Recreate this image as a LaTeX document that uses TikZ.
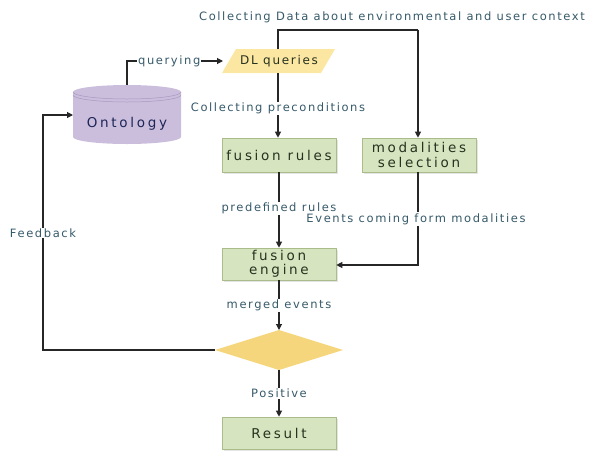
\documentclass[tikz,border=0pt]{standalone}
\usepackage{fontspec}
\setmainfont{DejaVu Sans}
\newfontfamily\lblfont[LetterSpace=14.0]{DejaVu Sans}
\newfontfamily\boxfont[LetterSpace=20.0]{DejaVu Sans}
\newfontfamily\dlfont[LetterSpace=14.0]{DejaVu Sans}
\usetikzlibrary{arrows.meta,shadows}
\definecolor{boxfill}{HTML}{D6E4BF}
\definecolor{boxline}{HTML}{A9BC8A}
\definecolor{boxtext}{HTML}{26321F}
\definecolor{lbltext}{HTML}{365A6A}
\definecolor{qfill}{HTML}{FBE6A2}
\definecolor{dfill}{HTML}{F6D67C}
\definecolor{ontofill}{HTML}{CBBEDC}
\definecolor{ontoline}{HTML}{A898C0}
\tikzset{
  procbox/.style={draw=boxline, fill=boxfill, line width=0.6pt,
    minimum width=114pt, minimum height=34pt, align=center, inner sep=1pt,
    font=\boxfont\fontsize{13.5}{14.5}\selectfont, text=boxtext,
    drop shadow={shadow xshift=1.5pt, shadow yshift=-1.5pt, fill=black!20}},
  lbl/.style={fill=white, inner sep=1pt, font=\lblfont\fontsize{11.5}{12}\selectfont, text=lbltext},
  flow/.style={line width=1.1pt, draw=black!85},
  arr/.style={flow, -{Triangle[length=6pt,width=6pt]}},
}
\begin{document}
\begin{tikzpicture}[x=1pt,y=-1pt]
  \useasboundingbox (0,0) rectangle (590,451);

  % ontology store (cylinder)
  \fill[ontofill] (73,92) -- (73,137) arc[start angle=180,end angle=0,x radius=54,y radius=7]
     -- (181,92) arc[start angle=0,end angle=-180,x radius=54,y radius=7] -- cycle;
  \draw[ontoline, line width=0.5pt] (73,92) arc[start angle=180,end angle=0,x radius=54,y radius=7];
  \draw[ontoline, line width=0.5pt] (73,95) arc[start angle=180,end angle=0,x radius=54,y radius=7];
  \node[font=\boxfont\fontsize{13.5}{14}\selectfont, text=boxtext!75!blue] (onto) at (127,124) {Ontology};
  \coordinate (ontoTop) at (127,85);
  \coordinate (ontoLeft) at (73,115);

  % DL queries (parallelogram)
  \fill[qfill] (222,73) -- (236,49) -- (335,49) -- (321,73) -- cycle;
  \node[font=\dlfont\fontsize{12}{13}\selectfont, text=boxtext] (dl) at (279,61) {DL queries};
  \coordinate (dlTop) at (278,49);
  \coordinate (dlBot) at (278,73);
  \coordinate (dlLeft) at (223,61);

  % process boxes
  \node[procbox] (rules) at (279,155) {fusion rules};
  \node[procbox] (modal) at (419,155) {modalities\\selection};
  \node[procbox, minimum height=32pt] (engine) at (279,264) {fusion\\engine};
  \node[procbox, minimum height=32pt] (result) at (279,433) {Result};

  % decision
  \fill[dfill] (215,350) -- (279,330) -- (343,350) -- (279,370) -- cycle;
  \coordinate (dTop) at (279,330);
  \coordinate (dBot) at (279,370);
  \coordinate (dLeft) at (215,350);

  % context data entering at the top
  \node[lbl] (ctx) at (392,17) {Collecting Data about environmental and user context};
  \coordinate (topL) at (278,30);
  \coordinate (topR) at (418,30);
  \draw[flow] (dlTop) -- (topL) -- (topR);
  \draw[arr] (topR) -- (modal.north -| topR);

  % querying the ontology
  \draw[arr] (ontoTop) |- (dlLeft) node[lbl, pos=0.72] {querying};

  % preconditions
  \draw[arr] (dlBot) -- (rules.north -| dlBot) node[lbl, pos=0.55] {Collecting preconditions};

  % predefined rules
  \draw[arr] (rules) -- (engine) node[lbl, pos=0.48] {predefined rules};

  % events from modalities
  \coordinate (mBend) at (418,265);
  \draw[arr] (modal.south -| mBend) -- (mBend) -- (engine.east |- mBend);
  \node[lbl] (evt) at (416,219) {Events coming form modalities};

  % merged events
  \draw[arr] (engine) -- (dTop) node[lbl, pos=0.5] {merged events};

  % positive outcome
  \draw[arr] (dBot) -- (result) node[lbl, pos=0.5] {Positive};

  % feedback loop
  \coordinate (fbBot) at (43,350);
  \coordinate (fbTop) at (43,115);
  \draw[arr] (dLeft) -- (fbBot) -- (fbTop) -- (ontoLeft);
  \node[lbl] (fb) at (43,233) {Feedback};
\end{tikzpicture}
\end{document}
